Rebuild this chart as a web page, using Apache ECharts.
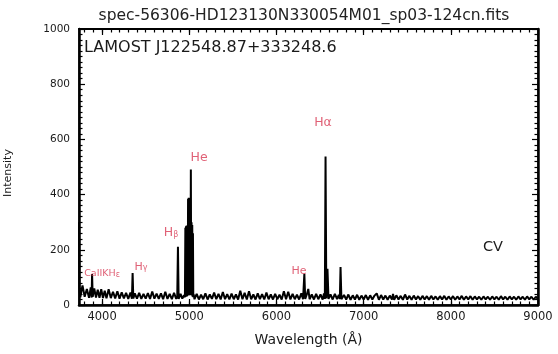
<!DOCTYPE html>
<html>
<head>
<meta charset="utf-8">
<script src="https://cdn.jsdelivr.net/npm/echarts@6/dist/echarts.min.js"></script>
<style>
  html, body { margin: 0; padding: 0; background: #fff; overflow: hidden; }
  #chart { width: 558px; height: 354px; }
</style>
</head>
<body>
<div id="chart"></div>
<script>
// Spectrum: [wavelength (Å), intensity]
const spectrum = [
  [3735, 300], [3740, 62], [3750, 28], [3775, 71], [3800, 30], [3825, 58], [3850, 26], [3870, 64],
  [3880, 27], [3885, 112], [3892, 30], [3910, 60], [3930, 27], [3950, 55], [3970, 26], [3990, 57],
  [4010, 25], [4030, 52], [4050, 24], [4075, 57], [4100, 25], [4125, 48], [4150, 24], [4175, 50],
  [4200, 23], [4225, 46], [4250, 24], [4275, 44], [4300, 22], [4325, 45], [4342, 23], [4350, 116],
  [4358, 24], [4375, 42], [4400, 23], [4425, 44], [4450, 22], [4475, 40], [4500, 23], [4525, 43],
  [4550, 22], [4575, 49], [4600, 23], [4625, 41], [4650, 22], [4675, 42], [4700, 21], [4725, 48],
  [4750, 22], [4775, 40], [4800, 21], [4825, 44], [4850, 22], [4862, 30], [4870, 211], [4878, 22],
  [4900, 40], [4920, 23], [4940, 36], [4950, 28], [4955, 280], [4958, 30], [4962, 285], [4966, 30],
  [4970, 288], [4974, 32], [4978, 287], [4982, 35], [4986, 385], [4990, 34], [4994, 389], [4998, 36],
  [5002, 388], [5006, 35], [5010, 386], [5014, 38], [5018, 491], [5022, 36], [5026, 300], [5030, 34],
  [5034, 290], [5038, 30], [5042, 260], [5046, 28], [5050, 38],
  [5060, 21], [5085, 40], [5110, 20], [5135, 37], [5160, 21], [5185, 42], [5210, 20], [5235, 38],
  [5260, 22], [5285, 45], [5310, 21], [5335, 40], [5360, 20], [5385, 47], [5410, 21], [5435, 39],
  [5460, 20], [5485, 41], [5510, 21], [5535, 38], [5560, 20], [5585, 52], [5610, 21], [5635, 44],
  [5660, 20], [5685, 50], [5710, 21], [5735, 38], [5760, 20], [5785, 42], [5810, 21], [5835, 39],
  [5860, 20], [5885, 45], [5910, 21], [5935, 38], [5960, 20], [5985, 40], [6010, 21], [6035, 37],
  [6060, 20], [6085, 50], [6110, 21], [6135, 48], [6160, 20], [6185, 40], [6210, 21], [6235, 37],
  [6260, 20], [6285, 42], [6305, 21], [6320, 113], [6330, 22], [6350, 40], [6365, 58], [6380, 21],
  [6405, 38], [6430, 20], [6455, 40], [6480, 21], [6505, 38], [6530, 20], [6545, 42], [6555, 22],
  [6563, 538], [6572, 24], [6585, 131], [6597, 22], [6620, 38], [6645, 20], [6670, 40], [6695, 21],
  [6715, 37], [6727, 22], [6735, 138], [6745, 21], [6775, 36], [6800, 20], [6825, 38], [6850, 19],
  [6875, 35], [6900, 20], [6925, 37], [6950, 19], [6975, 34], [7000, 20], [7025, 36], [7050, 19],
  [7075, 35], [7100, 20], [7125, 34], [7150, 42], [7175, 19], [7200, 36], [7225, 20], [7250, 34],
  [7275, 19], [7300, 34], [7325, 20], [7337, 40], [7350, 19], [7375, 35], [7400, 20], [7425, 33],
  [7450, 19], [7475, 38], [7500, 20], [7525, 33], [7550, 19], [7575, 34], [7600, 20], [7625, 32],
  [7650, 19], [7675, 33], [7700, 20], [7725, 32], [7750, 19], [7775, 33], [7800, 20], [7825, 31],
  [7850, 19], [7875, 32], [7900, 20], [7925, 33], [7950, 19], [7975, 31], [8000, 20], [8025, 32],
  [8050, 19], [8075, 31], [8100, 20], [8125, 33], [8150, 19], [8175, 31], [8200, 20], [8225, 32],
  [8250, 19], [8275, 31], [8300, 20], [8325, 30], [8350, 19], [8375, 31], [8400, 20], [8425, 30],
  [8450, 19], [8475, 31], [8500, 20], [8525, 30], [8550, 19], [8575, 32], [8600, 20], [8625, 30],
  [8650, 19], [8675, 31], [8700, 20], [8725, 30], [8750, 19], [8775, 31], [8800, 20], [8825, 30],
  [8850, 19], [8875, 31], [8900, 20], [8925, 30], [8950, 19], [8975, 30], [9000, 22]
];

// Axis ranges and tick labels
const waveRange = [3735, 9000];
const waveTicks = [4000, 5000, 6000, 7000, 8000, 9000];
const intensityRange = [0, 1000];
const intensityStep = 200;

// Line identifications: [wavelength, intensity, rich text]
const lineIds = [
  [6534, 665, '{m|Hα}'],
  [5112, 538, '{m|He}'],
  [4791, 265, '{m|H}{s|β}'],
  [4447, 142, '{n|H}{s|γ}'],
  [4000, 116, '{t|CaIIKH}{s|ε}'],
  [6259, 127, '{n|He}']
];

const titleText = 'spec-56306-HD123130N330054M01_sp03-124cn.fits';
const objectName = 'LAMOST J122548.87+333248.6';
const classText = 'CV';

// minor wavelength ticks every 100 Å
const minorWave = [];
for (let w = 3800; w < 9000; w += 100) minorWave.push(w);

const red = '#d83a54';
const ink = '#1a1a1a';
const font = 'DejaVu Sans';
const plain = v => String(v);
const tick = () => ({ color: '#000', width: 1.2 });

const gridBox = { left: 79, right: 20, top: 29, bottom: 49, outerBoundsMode: 'none' };

function waveAxis(gridIndex, position, extra) {
  return Object.assign({
    type: 'value', min: waveRange[0], max: waveRange[1], gridIndex: gridIndex,
    position: position, splitLine: { show: false }
  }, extra);
}

const chart = echarts.init(document.getElementById('chart'), null, { renderer: 'canvas' });

chart.setOption({
  backgroundColor: '#fff',
  animation: false,
  grid: [
    Object.assign({ show: true, borderColor: '#000', borderWidth: 1.5, backgroundColor: 'transparent' }, gridBox),
    Object.assign({}, gridBox)
  ],
  xAxis: [
    waveAxis(0, 'bottom', {
      name: 'Wavelength (Å)', nameLocation: 'middle', nameGap: 28,
      nameTextStyle: { fontFamily: font, fontSize: 14, color: ink },
      axisLine: { show: true, onZero: false, lineStyle: { color: '#000', width: 2.5 } },
      axisTick: { show: true, inside: true, length: 6, customValues: waveTicks, lineStyle: tick() },
      axisLabel: { show: true, customValues: waveTicks, formatter: plain, margin: 6, fontFamily: font, fontSize: 11.5, color: ink }
    }),
    waveAxis(0, 'top', {
      axisLine: { show: true, onZero: false, lineStyle: { color: '#000', width: 2 } },
      axisTick: { show: true, inside: true, length: 6, customValues: waveTicks, lineStyle: tick() },
      axisLabel: { show: false }
    }),
    waveAxis(1, 'bottom', {
      axisLine: { show: false, onZero: false },
      axisTick: { show: true, inside: true, length: 3.5, customValues: minorWave, lineStyle: tick() },
      axisLabel: { show: false }
    }),
    waveAxis(1, 'top', {
      axisLine: { show: false, onZero: false },
      axisTick: { show: true, inside: true, length: 3.5, customValues: minorWave, lineStyle: tick() },
      axisLabel: { show: false }
    })
  ],
  yAxis: [
    {
      type: 'value', gridIndex: 0, min: intensityRange[0], max: intensityRange[1], interval: intensityStep,
      position: 'left',
      splitLine: { show: false },
      axisLine: { show: true, onZero: false, lineStyle: { color: '#000', width: 2.5 } },
      axisTick: { show: true, inside: true, length: 6, lineStyle: tick() },
      minorTick: { show: true, splitNumber: 10, length: 3.5, lineStyle: tick() },
      axisLabel: { show: true, formatter: plain, margin: 9, fontFamily: font, fontSize: 10.5, color: ink }
    },
    {
      type: 'value', gridIndex: 0, min: intensityRange[0], max: intensityRange[1], interval: intensityStep,
      position: 'right',
      splitLine: { show: false },
      axisLine: { show: true, onZero: false, lineStyle: { color: '#000', width: 2.5 } },
      axisTick: { show: true, inside: true, length: 6, lineStyle: tick() },
      minorTick: { show: true, splitNumber: 10, length: 3.5, lineStyle: tick() },
      axisLabel: { show: false }
    },
    {
      type: 'value', gridIndex: 1, min: intensityRange[0], max: intensityRange[1], show: false
    }
  ],
  series: [
    {
      type: 'line',
      xAxisIndex: 0, yAxisIndex: 0,
      data: spectrum,
      showSymbol: false,
      sampling: 'none',
      lineStyle: { color: '#000', width: 2 },
      clip: true,
      z: 3
    },
    {
      type: 'scatter',
      xAxisIndex: 0, yAxisIndex: 0,
      symbolSize: 0,
      silent: true,
      data: lineIds.map(d => ({ value: [d[0], d[1]], name: d[2] })),
      label: {
        show: true, position: 'inside',
        formatter: p => p.name,
        rich: {
          m: { fontFamily: font, fontSize: 12.5, color: red, lineHeight: 15, verticalAlign: 'bottom' },
          n: { fontFamily: font, fontSize: 11, color: red, lineHeight: 13, verticalAlign: 'bottom' },
          t: { fontFamily: font, fontSize: 9.5, color: red, lineHeight: 12, verticalAlign: 'bottom' },
          s: { fontFamily: font, fontSize: 8, color: red, lineHeight: 11, verticalAlign: 'bottom' }
        }
      },
      z: 4
    }
  ],
  graphic: [
    {
      type: 'text', x: 304, y: 16,
      style: { text: titleText, fontFamily: font, fontSize: 15.5, fill: '#222', align: 'center', verticalAlign: 'middle' }
    },
    {
      type: 'text', x: 84, y: 48,
      style: { text: objectName, fontFamily: font, fontSize: 16, fill: ink, verticalAlign: 'middle' }
    },
    {
      type: 'text', x: 493, y: 247,
      style: { text: classText, fontFamily: font, fontSize: 14.5, fill: ink, align: 'center', verticalAlign: 'middle' }
    },
    {
      type: 'text', x: 8, y: 173, rotation: Math.PI / 2,
      style: { text: 'Intensity', fontFamily: font, fontSize: 11, fill: ink, align: 'center', verticalAlign: 'middle' }
    }
  ]
});
</script>
</body>
</html>
